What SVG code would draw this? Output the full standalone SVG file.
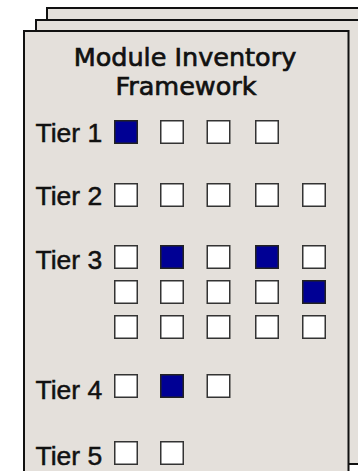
<svg xmlns="http://www.w3.org/2000/svg" width="358" height="471" viewBox="0 0 358 471">
<style>
.card{fill:#e4e0db;stroke:#111;stroke-width:2}
.w{fill:#fff;stroke:#333;stroke-width:1.5}
.b{fill:#000094;stroke:#222;stroke-width:1.5}
.lbl{font-family:"Liberation Sans",Arial,sans-serif;font-size:26.5px;fill:#111;stroke:#111;stroke-width:0.5}
.ttl{font-family:"DejaVu Sans",Verdana,sans-serif;font-size:25.5px;fill:#111;stroke:#111;stroke-width:0.7;text-anchor:middle}
</style>
<rect width="358" height="471" fill="#fff"/>
<g id="stack">
<rect class="card" x="47" y="8" width="340" height="444"/>
<rect class="card" x="36" y="20" width="325" height="444"/>
<rect class="card" x="24" y="31" width="324.5" height="460"/>
</g>
<g id="title">
<text class="ttl" x="185" y="66">Module Inventory</text>
<text class="ttl" x="186" y="95">Framework</text>
</g>
<g id="tier1">
<text class="lbl" x="35.5" y="142">Tier 1</text>
<rect class="b" x="114.75" y="120.75" width="22.5" height="22.5"/>
<rect class="w" x="160.75" y="120.75" width="22.5" height="22.5"/>
<rect class="w" x="207.25" y="120.75" width="22.5" height="22.5"/>
<rect class="w" x="255.75" y="120.75" width="22.5" height="22.5"/>
</g>
<g id="tier2">
<text class="lbl" x="35.5" y="205">Tier 2</text>
<rect class="w" x="114.75" y="183.75" width="22.5" height="22.5"/>
<rect class="w" x="160.75" y="183.75" width="22.5" height="22.5"/>
<rect class="w" x="207.25" y="183.75" width="22.5" height="22.5"/>
<rect class="w" x="255.75" y="183.75" width="22.5" height="22.5"/>
<rect class="w" x="302.75" y="183.75" width="22.5" height="22.5"/>
</g>
<g id="tier3">
<text class="lbl" x="35.5" y="269">Tier 3</text>
<rect class="w" x="114.75" y="245.75" width="22.5" height="22.5"/>
<rect class="b" x="160.75" y="245.75" width="22.5" height="22.5"/>
<rect class="w" x="207.25" y="245.75" width="22.5" height="22.5"/>
<rect class="b" x="255.75" y="245.75" width="22.5" height="22.5"/>
<rect class="w" x="302.75" y="245.75" width="22.5" height="22.5"/>
<rect class="w" x="114.75" y="280.75" width="22.5" height="22.5"/>
<rect class="w" x="160.75" y="280.75" width="22.5" height="22.5"/>
<rect class="w" x="207.25" y="280.75" width="22.5" height="22.5"/>
<rect class="w" x="255.75" y="280.75" width="22.5" height="22.5"/>
<rect class="b" x="302.75" y="280.75" width="22.5" height="22.5"/>
<rect class="w" x="114.75" y="315.75" width="22.5" height="22.5"/>
<rect class="w" x="160.75" y="315.75" width="22.5" height="22.5"/>
<rect class="w" x="207.25" y="315.75" width="22.5" height="22.5"/>
<rect class="w" x="255.75" y="315.75" width="22.5" height="22.5"/>
<rect class="w" x="302.75" y="315.75" width="22.5" height="22.5"/>
</g>
<g id="tier4">
<text class="lbl" x="35.5" y="399">Tier 4</text>
<rect class="w" x="114.75" y="374.75" width="22.5" height="22.5"/>
<rect class="b" x="160.75" y="374.75" width="22.5" height="22.5"/>
<rect class="w" x="207.25" y="374.75" width="22.5" height="22.5"/>
</g>
<g id="tier5">
<text class="lbl" x="35.5" y="465">Tier 5</text>
<rect class="w" x="114.75" y="441.75" width="22.5" height="22.5"/>
<rect class="w" x="160.75" y="441.75" width="22.5" height="22.5"/>
</g>
<g id="connectors"/>
</svg>
